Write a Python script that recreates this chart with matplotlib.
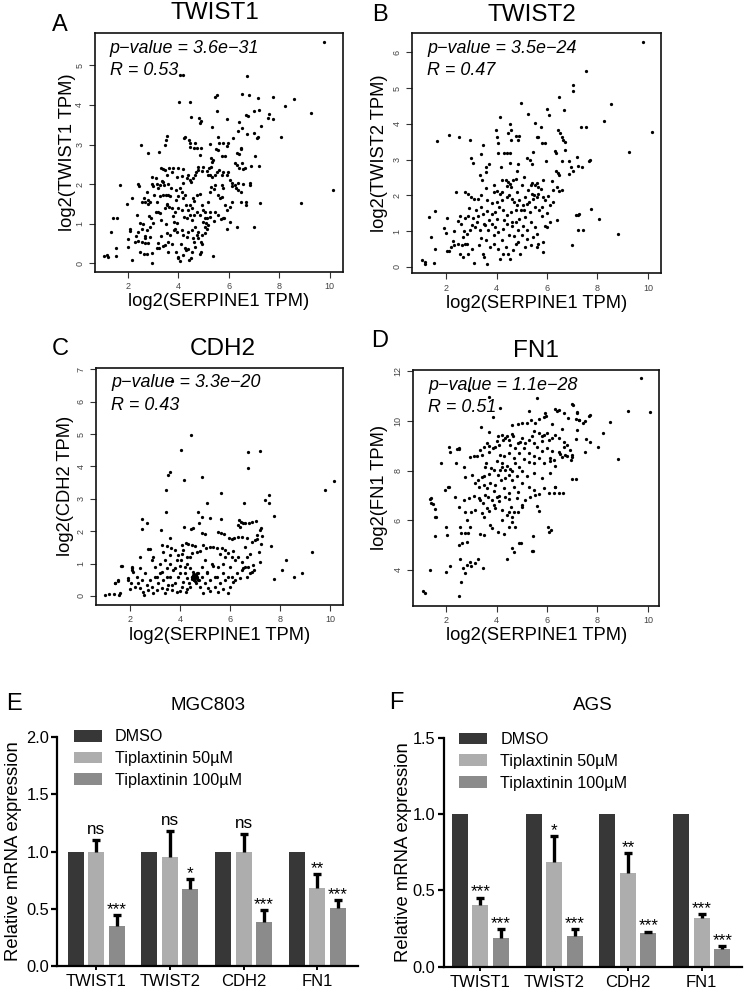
import numpy as np
import matplotlib
matplotlib.use("Agg")
import matplotlib.pyplot as plt

plt.rcParams['font.family'] = ['Liberation Sans', 'DejaVu Sans']

# ---------------- data: correlation scatter (log2 TPM) ----------------
twist1_pts = [
    (9.79,5.59),(4.07,4.76),(4.18,4.75),(6.72,4.72),(10.15,1.85),(8.86,1.52),(9.27,3.79),(8.57,4.14),(8.24,3.98),
    (8.08,3.2),(7.75,4.21),(7.18,4.17),(6.54,4.27),(6.82,4.25),(5.46,4.21),(5.53,4.25),(4.03,4.08),(4.47,4.07),
    (5.55,3.85),(4.5,3.7),(4.82,3.68),(4.9,3.6),(4.87,3.54),(5.94,3.64),(5.35,3.45),(6.42,3.58),(6.75,3.71),
    (6.67,3.75),(6.99,3.85),(7.21,3.87),(7.54,3.66),(7.61,3.77),(7.74,3.64),(7.3,3.48),(7.01,3.29),(7.18,3.2),
    (7.14,3.16),(6.71,3.26),(6.51,3.41),(6.37,3.35),(3.56,3.21),(3.5,3.11),(3.46,3.0),(4.26,3.19),(4.22,3.16),
    (2.51,2.98),(2.79,2.78),(3.24,2.81),(4.43,3.12),(4.47,3.03),(4.48,2.93),(4.66,3.04),(4.61,2.92),(4.74,2.92),
    (4.9,2.92),(4.88,2.74),(5.26,3.02),(5.59,3.18),(5.6,3.05),(5.57,2.86),(5.48,2.9),(5.79,3.05),(5.93,2.97),
    (5.98,3.03),(6.16,3.16),(6.49,2.92),(6.47,2.88),(6.34,2.8),(6.4,2.75),(5.72,2.72),(5.85,2.7),(5.28,2.67),
    (5.33,2.57),(5.39,2.61),(5.3,2.44),(5.23,2.42),(6.25,2.53),(6.35,2.49),(6.4,2.42),(6.51,2.53),(6.64,2.42),
    (6.58,2.38),(6.88,2.47),(7.04,2.7),(7.2,2.45),(6.84,2.02),(6.86,1.99),(6.55,2.0),(6.38,1.85),(6.49,1.79),
    (6.47,1.56),(6.68,1.54),(6.67,1.47),(7.25,1.52),(7.01,0.93),(6.34,0.91),(5.92,0.86),(6.05,1.05),(5.79,1.15),
    (5.42,1.07),(5.39,0.18),(4.86,0.23),(4.9,0.29),(2.98,0.02),
    (1.7,1.98),(1.41,1.14),(1.59,1.14),(1.34,0.78),(1.96,1.49),(2.17,1.64),(2.42,2.0),(2.46,1.96),(1.05,0.19),
    (1.18,0.21),(1.21,0.17),(1.55,0.19),(1.55,0.4),(2.16,0.09),(2.01,0.42),(2.0,0.62),(2.09,0.88),(2.07,0.82),
    (2.34,0.69),(2.42,0.56),(2.49,1.03),(2.36,1.22),(2.55,1.56),(2.69,1.54),(2.75,1.81),(2.98,2.19),(3.12,2.15),
    (3.15,2.0),(2.95,2.0),(3.0,1.96),(3.35,2.08),(3.41,2.05),(3.49,2.36),(3.65,2.4),(3.54,2.23),(3.28,1.98),
    (3.44,1.98),(3.81,2.4),(3.74,2.3),(4.0,2.42),(4.2,2.38),(4.16,2.2),(3.94,2.19),(2.66,1.66),(2.82,1.6),
    (2.79,1.49),(2.88,1.56),(3.04,1.73),(3.15,1.54),(3.29,1.71),(3.41,1.73),(3.5,1.73),(3.58,1.73),(3.68,1.71),
    (3.21,1.31),(3.28,1.26),(3.48,1.41),(3.64,1.43),(3.74,1.39),(3.54,1.47),(2.42,0.8),(2.55,0.88),(2.75,0.84),
    (2.88,0.93),(2.92,1.14),(3.02,1.01),(2.29,0.55),(2.55,0.55),(2.69,0.51),(2.82,0.51),(2.69,0.63),(2.88,0.67),
    (2.49,0.29),(2.66,0.23),(2.75,0.23),(2.95,0.25),(3.15,0.38),(3.19,0.51),(3.25,0.38),(3.48,0.46),
    (3.58,0.55),(3.54,0.76),(3.68,0.72),(3.85,0.84),(3.83,1.05),(3.94,1.01),(4.0,0.17),(4.0,0.13),(4.07,0.07),
    (4.27,0.38),(4.3,0.34),(4.4,0.36),(4.43,0.08),(4.49,0.13),(4.53,0.29),(4.6,0.63),(4.64,0.55),(4.66,0.42),
    (4.8,0.63),(4.9,0.55),(4.93,0.48),(4.8,0.8),(5.06,0.76),(5.13,0.88),(5.09,1.01),(5.13,1.14),(5.26,1.18),
    (5.26,1.31),(4.07,1.9),(4.14,1.81),(4.2,2.02),(4.34,2.15),(4.4,2.23),(4.47,2.11),(4.51,2.05),(4.6,2.15),
    (4.66,2.23),(4.7,2.32),(4.8,2.44),(4.8,2.36),(4.93,2.33),(4.99,2.44),(5.13,2.33),(5.19,2.22),(5.26,2.23),
    (5.32,2.17),(5.46,2.23),(5.52,2.3),(5.61,2.36),(5.72,2.23),(5.79,2.3),(5.92,2.23),(5.98,2.3),(6.05,2.11),
    (6.12,2.02),(6.14,1.96),(5.72,1.98),(5.79,1.9),(4.18,1.64),(4.27,1.73),(4.3,1.47),(4.47,1.47),(4.4,1.35),
    (4.53,1.39),(4.6,1.64),(4.63,1.58),(4.73,1.73),(4.86,1.74),(4.93,1.47),(4.99,1.35),(5.06,1.31),(5.19,1.56),
    (5.26,1.81),(5.3,1.94),(5.43,1.88),(5.46,1.98),(5.59,1.73),(5.65,1.64),(5.72,1.68),(5.85,1.47),(5.92,1.35),
    (6.05,1.43),(6.12,1.56),(6.25,1.98),(6.31,1.9),(6.38,2.02),(3.87,1.31),(4.0,1.39),(4.16,1.35),(4.24,1.18),
    (4.34,1.14),(4.47,1.22),(4.53,1.1),(4.64,1.22),(4.73,1.29),(4.86,1.22),(4.99,1.05),(5.06,1.14),(5.19,0.97),
    (5.46,1.31),(5.59,1.22),(5.69,1.12),(5.83,1.14),(3.87,0.88),(3.94,0.8),(4.14,0.84),(4.2,0.72),(4.34,0.67),
    (4.4,0.8),(4.53,0.84),(4.66,0.93),(4.73,0.72),(4.93,0.72),(5.06,0.93),(3.3,2.4),(3.4,2.38),(3.6,2.0),
    (3.7,1.9),(3.9,1.85),(3.2,1.9),(3.55,1.5),(3.9,1.6),(4.0,1.7),(3.75,0.5),(3.6,0.3),(3.4,0.45),(3.3,0.7),
    (4.1,0.5),(4.2,0.2),(3.9,0.3),(3.8,1.2),(3.5,1.0),(3.3,1.1),(3.1,1.3),(2.85,1.2),(2.6,1.0),(2.7,0.7),
]

twist2_pts = [
    (9.8,6.28),(7.53,5.47),(7.03,5.08),(7.03,4.92),(8.54,4.54),(6.49,4.76),(10.15,3.78),(9.24,3.2),(8.24,4.08),
    (8.83,0.93),(8.08,1.35),(7.74,1.61),(7.01,0.61),(7.25,1.49),(7.22,1.45),(7.41,1.04),(7.71,3.0),(7.65,2.97),
    (7.34,3.92),(7.55,3.9),(4.97,4.57),(4.14,4.18),(5.23,4.27),(6.0,4.42),(6.09,4.24),(5.51,4.03),(5.77,3.91),
    (4.52,3.99),(4.57,3.84),(2.11,3.69),(2.5,3.64),(1.66,3.52),(2.94,3.56),(3.97,3.84),(4.03,3.62),
    (3.48,3.4),(4.04,3.45),(4.44,3.73),(4.57,3.56),(4.77,3.67),(4.89,3.66),(4.86,3.54),(5.59,3.64),(5.65,3.62),
    (5.79,3.47),(5.94,3.45),(6.45,3.82),(6.51,3.73),(6.58,3.64),(6.64,3.56),(6.71,3.48),(6.3,3.25),(6.36,3.19),
    (6.71,3.27),(6.67,4.38),(2.99,3.03),(3.06,2.91),(3.39,3.15),(3.71,2.87),(4.07,3.19),(4.18,2.8),(4.3,3.19),
    (4.4,3.19),(4.53,3.17),(4.53,2.89),(4.84,2.87),(5.22,3.03),(5.32,2.99),(5.4,2.87),(5.46,3.22),(5.96,2.97),
    (6.35,2.69),(6.42,2.63),(6.49,2.57),(6.6,2.97),(6.88,2.96),(7.17,3.08),(6.95,2.8),(7.04,2.69),(7.21,2.82),
    (7.37,2.78),(6.87,2.59),(3.35,2.57),(3.44,2.44),(3.58,2.78),(3.58,2.66),(4.2,2.44),(4.37,2.44),(4.47,2.38),
    (4.53,2.33),(4.66,2.44),(4.77,2.47),(4.4,2.26),(4.56,2.24),(4.82,2.68),(5.09,2.5),(5.26,2.15),(5.35,2.29),
    (5.42,2.35),(5.54,2.29),(5.61,2.35),(5.65,2.24),(5.75,2.19),(5.85,2.44),(2.4,2.1),(2.75,2.1),(2.88,2.05),
    (2.98,1.96),(3.12,1.91),(3.28,1.91),(3.37,1.68),(3.61,1.88),(3.81,1.79),(3.91,2.1),(4.03,2.13),(4.14,2.05),
    (4.2,1.87),(4.4,1.96),(4.6,1.91),(4.69,1.82),(4.8,1.73),(4.9,1.87),(5.03,1.73),(5.13,1.96),(5.22,1.77),
    (5.39,2.03),(5.46,1.91),(5.59,1.96),(5.65,2.03),(5.83,1.96),(5.92,1.87),(6.05,1.98),(6.25,2.15),(6.38,2.24),
    (6.47,2.12),(6.58,2.15),(6.12,1.73),(6.22,1.82),(5.79,1.68),(5.52,1.66),(5.32,1.54),(5.13,1.4),(4.96,1.59),
    (4.77,1.6),(4.56,1.54),(4.4,1.45),(4.27,1.59),(4.11,1.68),(3.94,1.54),(3.81,1.47),(3.64,1.57),(3.48,1.47),
    (3.28,1.42),(3.21,1.26),(3.08,1.38),(2.88,1.42),(2.75,1.37),(2.55,1.42),(2.49,1.29),(2.05,1.37),(1.33,1.4),
    (1.55,1.57),(1.93,1.1),(1.99,0.95),(1.41,0.84),(1.56,0.49),(1.06,0.19),(1.16,0.14),(1.18,0.09),(1.53,0.11),
    (2.03,0.45),(2.13,0.43),(2.29,0.73),(2.33,0.61),(2.49,0.63),(2.62,0.61),(2.75,0.63),(2.84,0.65),(2.69,0.84),
    (2.84,0.93),(2.95,1.04),(3.02,1.17),(3.15,1.12),(3.35,1.03),(3.54,1.17),(3.68,1.04),(3.81,1.21),(3.94,1.12),
    (4.07,0.98),(4.27,1.07),(4.4,1.21),(4.6,1.14),(4.77,1.26),(4.86,1.03),(5.06,1.14),(5.19,1.03),(5.37,1.26),
    (5.52,1.12),(5.59,0.93),(5.79,1.42),(5.92,1.14),(6.01,1.12),(6.12,1.26),(6.38,1.31),(7.24,1.03),(7.14,1.45),
    (2.55,0.37),(2.69,0.28),(2.88,0.35),(3.02,0.49),(3.12,0.11),(3.48,0.37),(3.5,0.28),(3.61,0.09),(3.74,0.56),
    (3.9,0.63),(4.07,0.51),(4.14,0.23),(4.24,0.37),(4.37,0.56),(4.47,0.37),(4.53,0.23),(4.66,0.47),(4.77,0.65),
    (4.86,0.7),(4.93,0.35),(5.13,0.56),(5.22,0.79),(5.35,0.61),(5.46,0.84),(5.65,0.63),(5.85,0.7),(5.85,0.42),
    (5.59,0.56),(3.3,0.6),(3.4,0.8),(3.6,0.75),(3.9,0.9),(4.2,0.75),(4.5,0.9),(4.7,0.85),(5.0,0.9),(3.2,1.6),
    (3.5,1.2),(3.7,1.3),(4.0,1.35),(4.3,1.3),(4.6,1.25),(4.9,1.35),(5.1,1.6),(5.3,1.8),(4.0,1.8),(4.2,2.1),
    (4.5,2.0),(4.8,2.1),(5.0,2.3),(5.5,2.0),(5.7,1.6),(6.0,1.5),(6.2,2.4),(3.9,2.3),(3.6,2.2),(3.4,2.0),
    (2.9,1.65),(2.6,1.2),(2.3,1.0),(2.2,0.55),(2.7,1.0),
]

cdh2_pts = [
    (4.43,4.98),(4.03,4.5),(6.73,4.45),(7.21,4.48),(6.71,3.96),(3.61,3.83),(3.51,3.73),(4.18,3.58),(4.9,3.66),
    (3.43,3.27),(5.63,3.17),(7.55,3.13),(7.39,2.96),(7.54,2.88),(6.54,2.86),(5.09,2.86),(3.43,2.6),(7.75,2.48),
    (4.71,2.6),(4.9,2.45),(5.19,2.42),(5.64,2.37),(2.48,2.39),(2.7,2.24),(2.5,2.07),(3.25,2.03),(4.18,2.12),
    (4.43,2.08),(4.51,2.09),(4.75,2.26),(4.87,1.93),(5.0,1.9),(6.36,2.34),(6.44,2.29),(6.53,2.24),(6.6,2.26),
    (6.75,2.24),(6.89,2.29),(7.02,2.31),(6.33,2.19),(6.41,2.14),(7.22,2.09),(7.21,2.04),(5.51,1.96),(5.64,1.93),
    (5.77,1.91),(7.06,1.88),(5.97,1.78),(6.06,1.75),(6.17,1.78),(6.3,1.81),(6.46,1.81),(6.66,1.78),(6.86,1.68),
    (6.99,1.73),(7.09,1.76),(7.26,1.85),(7.23,1.6),(7.62,1.54),(8.23,1.11),(7.17,1.37),(8.85,0.7),(8.56,0.6),
    (8.08,0.8),(7.75,0.51),(7.19,1.06),(6.95,0.8),(6.86,0.75),(6.66,1.21),(6.73,0.9),(10.15,3.54),(9.78,3.26),
    (9.25,1.35),(3.67,6.65),
    (1.71,0.94),(2.08,0.9),(2.08,0.8),(2.41,1.19),(2.74,1.45),(2.83,1.46),(3.27,1.57),(2.94,1.21),(3.47,1.54),
    (3.61,1.78),(3.65,1.47),(3.34,1.37),(3.61,1.26),(3.81,1.42),(4.07,1.57),(4.23,1.62),(4.34,1.6),(4.47,1.57),
    (4.6,1.54),(4.14,1.42),(3.94,1.26),(4.05,1.11),(4.27,1.21),(4.5,1.32),(4.67,1.37),(4.8,1.4),(4.93,1.57),
    (5.04,1.47),(5.2,1.52),(5.33,1.5),(5.47,1.47),(5.67,1.47),(5.8,1.42),(5.93,1.32),(6.06,1.21),(6.2,1.11),
    (6.33,1.21),(6.46,1.06),(6.6,0.9),(6.46,0.8),(2.41,0.85),(1.95,0.49),(1.52,0.49),(1.42,0.39),
    (1.03,0.02),(1.19,0.05),(1.39,0.06),(1.58,0.03),(1.62,0.1),(1.42,0.41),(1.55,0.47),(1.67,0.93),(1.95,0.55),
    (2.04,0.39),(2.12,0.75),(2.08,0.86),(2.01,0.21),(2.21,0.29),(2.35,0.39),(2.41,0.24),(2.48,0.49),(2.54,0.13),
    (2.57,0.03),(2.68,0.34),(2.74,0.19),(2.81,0.49),(2.88,0.29),(2.94,0.08),(3.01,0.6),(3.08,0.19),(3.14,0.39),
    (3.21,0.7),(3.27,0.24),(3.34,0.49),(3.41,0.08),(3.47,0.86),(3.54,0.34),(3.61,0.6),(3.67,0.19),(3.74,0.8),
    (3.81,0.39),(3.87,0.13),(3.94,0.6),(4.01,0.91),(4.07,0.29),(4.14,0.44),(4.2,0.7),(4.24,0.13),(4.3,0.55),
    (4.35,0.39),(4.4,0.29),(4.47,0.6),(4.51,0.75),(4.56,0.49),(4.6,0.65),(4.64,0.39),(4.67,0.55),(4.71,0.7),
    (4.75,0.49),(4.8,0.29),(4.87,0.6),(4.93,0.08),(5.0,0.39),(5.07,0.75),(5.13,0.24),(5.2,0.49),(5.33,0.91),
    (5.4,0.29),(5.47,0.6),(5.53,0.13),(5.6,0.39),(5.71,0.7),(5.8,0.49),(5.93,0.08),(6.0,0.29),(6.06,0.6),
    (6.13,0.44),(6.26,0.7),(6.4,0.55),(6.53,0.86),(6.66,0.6),(6.79,0.7),(6.93,0.96),
    (4.55,0.6),(4.6,0.55),(4.65,0.62),(4.7,0.58),(4.58,0.68),(4.5,0.52),(4.62,0.45),(4.68,0.72),(4.72,0.5),
    (4.52,0.65),(4.48,0.58),(4.66,0.66),(4.57,0.48),
    (3.0,0.9),(3.2,1.0),(3.4,1.1),(3.3,0.75),(3.5,0.6),(3.6,1.0),(3.8,0.85),(4.0,0.7),(4.2,0.9),(4.3,1.0),
    (4.4,0.85),(4.9,0.9),(5.0,1.1),(5.1,0.7),(5.3,1.0),(5.5,0.9),(5.7,1.0),(5.8,1.2),(6.0,0.9),(6.2,0.5),
    (2.9,1.1),(3.1,0.6),(2.6,0.7),(2.3,0.6),(3.9,1.1),(4.1,1.3),(4.4,1.2),(5.6,1.3),(6.1,1.4),(6.6,1.5),
    (6.8,1.3),(5.4,0.6),(5.9,0.6),(3.5,0.2),(3.7,0.35),(4.0,0.15),(4.3,0.2),(5.2,0.15),(5.7,0.2),
]

fn1_pts = [
    (9.73,11.73),(10.09,10.36),(9.2,10.41),(8.5,9.95),(8.2,9.51),(8.04,8.97),(8.81,8.46),(7.67,10.22),(7.51,10.01),
    (7.41,9.94),(7.25,10.05),(7.15,10.08),(6.99,10.69),(7.18,10.38),(6.3,10.48),(6.46,10.45),(5.9,10.18),
    (5.6,10.95),(5.27,10.41),(4.15,10.52),(3.86,10.18),(2.92,11.26),(3.4,9.78),(3.69,10.99),
    (1.78,8.3),(2.15,8.74),(2.44,8.87),(2.53,8.88),(1.97,7.23),(2.08,7.36),(1.35,6.86),(1.42,6.69),(1.58,6.46),
    (1.58,6.15),(1.58,5.37),(2.0,5.72),(2.04,5.41),(1.38,4.0),(2.01,3.91),(2.17,4.17),(1.08,3.17),(1.18,3.06),
    (2.53,2.95),(2.59,3.53),(2.57,4.43),(2.66,4.07),(2.77,3.87),(2.84,4.2),(2.94,4.34),(2.99,4.16),(3.16,4.27),
    (3.27,4.43),(3.45,4.07),(4.43,4.43),(4.61,4.87),(4.7,4.71),(4.89,5.1),(4.95,5.09),(5.39,4.78),(5.44,4.75),
    (5.44,5.37),(6.04,5.75),(6.17,5.61),(6.07,5.52),(6.99,7.67),(7.15,7.66),(6.3,7.36),(6.63,7.12),(6.29,7.09),
    (7.49,8.77),(7.55,9.28),(7.71,9.17),(6.99,8.54),(6.96,8.44),(6.72,8.64),(6.66,8.97),(7.16,9.27),(7.19,9.65),
    (3.7,9.55),(4.06,9.4),(4.22,9.44),(4.41,9.4),(4.61,9.85),(4.85,9.87),(5.01,9.91),(5.21,9.91),(5.36,10.05),
    (5.54,9.94),(5.67,10.08),(5.93,10.34),(5.96,10.21),(6.39,10.41),(6.66,10.32),(6.85,10.12),(7.03,10.65),
    (7.18,10.34),(7.25,10.05),(7.71,10.25),
    (2.13,8.95),(2.5,8.91),(2.41,8.33),(2.7,8.14),(2.77,7.76),(3.03,7.83),(2.96,8.57),(3.1,8.6),(3.23,8.6),
    (3.36,8.84),(3.42,8.64),(3.49,8.97),(3.62,9.13),(3.69,8.77),(3.85,8.91),(3.95,8.97),(4.08,9.04),(4.15,8.64),
    (4.24,9.24),(4.35,9.31),(4.48,9.24),(4.55,9.04),(4.64,9.38),(4.74,8.91),(4.85,9.11),(4.94,9.17),(5.01,9.31),
    (5.14,9.13),(5.27,9.22),(5.4,9.38),(5.47,9.11),(5.6,8.97),(5.67,9.51),(5.8,9.38),(5.9,9.44),(6.0,9.54),
    (6.06,9.24),(6.2,9.31),(6.33,9.44),(6.46,9.31),(6.66,9.17),(6.79,9.04),(6.92,8.84),(6.99,8.64),(6.46,8.77),
    (6.53,8.68),(6.59,8.54),(6.13,8.5),(6.26,8.44),(5.87,8.3),(5.67,8.5),(5.47,8.3),(5.27,8.37),(5.07,8.46),
    (4.88,8.14),(4.72,8.3),(4.55,8.06),(4.48,7.83),(4.35,8.03),(4.22,8.14),(4.15,8.03),(4.06,7.83),(3.89,8.03),
    (3.72,7.87),(3.56,8.14),(3.42,7.76),(3.27,7.63),(3.13,7.49),(3.29,7.36),(3.49,7.43),(3.62,7.29),(3.75,7.49),
    (3.95,7.43),(4.19,7.63),(4.35,7.7),(4.61,7.63),(4.68,7.36),(4.85,7.16),(5.01,7.49),(5.27,7.36),(5.47,7.23),
    (5.67,7.06),(5.87,7.29),(6.06,7.09),(6.33,7.36),(6.46,7.09),
    (2.11,7.36),(2.37,6.96),(2.5,6.55),(2.7,6.82),(2.9,6.89),(2.77,6.35),(3.0,6.35),(3.16,6.42),(3.36,6.82),
    (3.45,6.69),(3.56,7.02),(3.66,6.93),(3.82,6.82),(3.95,6.49),(3.62,6.49),(3.72,6.38),(3.42,6.28),(3.49,6.12),
    (4.02,6.96),(4.11,6.76),(4.35,6.96),(4.48,6.85),(4.59,6.55),(4.68,6.35),(4.85,6.35),(5.01,6.55),(5.14,6.82),
    (5.34,6.96),(5.51,7.02),(5.6,6.58),(5.69,6.39),(4.48,6.35),(4.61,6.15),(4.22,6.02),(4.48,5.75),(4.61,5.95),
    (4.74,5.75),(3.75,5.81),(3.82,5.68),(2.57,5.75),(2.83,6.02),(2.96,5.75),(2.77,5.51),(2.87,5.48),(2.61,5.48),
    (3.36,5.45),(3.49,5.41),(4.06,5.55),(4.28,5.45),(2.63,5.08),(2.83,5.12),(2.5,5.02),(1.42,6.89),(1.47,6.66),
    (1.62,6.15),
    (4.3,8.6),(4.5,8.7),(4.7,8.5),(4.9,8.7),(5.1,8.9),(5.3,8.7),(5.5,8.6),(5.8,8.8),(6.0,8.9),(6.2,8.8),
    (4.0,8.4),(4.2,8.3),(4.4,8.2),(4.6,8.0),(4.8,7.8),(5.0,8.0),(5.2,7.8),(5.5,7.9),(5.8,7.7),(6.1,7.9),
    (6.3,8.2),(3.6,8.3),(3.8,8.1),(3.5,7.8),(3.9,7.2),(4.1,7.0),(4.3,7.3),(4.5,7.1),(4.8,6.9),(5.0,6.6),
    (3.3,6.9),(3.1,7.0),(3.9,6.6),(4.2,6.4),(4.4,6.2),(3.7,9.0),(4.0,9.2),(4.6,9.5),(5.5,9.6),(6.2,9.9),
    (6.6,9.7),(5.8,9.2),(6.8,8.6),(6.1,8.4),
]

# ---------------- data: qPCR bars ----------------
genes = ['TWIST1', 'TWIST2', 'CDH2', 'FN1']
groups = ['DMSO', 'Tiplaxtinin 50µM', 'Tiplaxtinin 100µM']

mgc_dmso = [1.0, 1.0, 1.0, 1.0]
mgc_50 = [1.0, 0.95, 1.0, 0.68]
mgc_50_err = [0.10, 0.23, 0.15, 0.12]
mgc_100 = [0.346, 0.669, 0.384, 0.506]
mgc_100_err = [0.10, 0.09, 0.10, 0.067]
mgc_sig50 = ['ns', 'ns', 'ns', '**']
mgc_sig100 = ['***', '*', '***', '***']

ags_dmso = [1.0, 1.0, 1.0, 1.0]
ags_50 = [0.405, 0.683, 0.617, 0.317]
ags_50_err = [0.048, 0.17, 0.125, 0.027]
ags_100 = [0.186, 0.20, 0.219, 0.114]
ags_100_err = [0.059, 0.045, 0.011, 0.019]
ags_sig50 = ['***', '*', '**', '***']
ags_sig100 = ['***', '***', '***', '***']

# ---------------- figure ----------------
W, H = 744, 992
fig = plt.figure(figsize=(W / 100, H / 100), dpi=100)


def add_ax(l, t, r, b):
    return fig.add_axes([l / W, 1 - b / H, (r - l) / W, (b - t) / H])


def fig_text(x, y, s, **kw):
    return fig.text(x / W, 1 - y / H, s, **kw)


def scatter_panel(rect, pts, xlim, ylim, yticks, gene, pval, rval, letter, title_xy, letter_xy, ylab_off):
    ax = add_ax(*rect)
    w = rect[2] - rect[0]
    h = rect[3] - rect[1]
    pts = np.array(pts)
    ax.scatter(pts[:, 0], pts[:, 1], s=5.5, c='black', linewidths=0)
    ax.set_xlim(xlim)
    ax.set_ylim(ylim)
    ax.set_xticks([2, 4, 6, 8, 10])
    ax.set_yticks(yticks)
    ax.tick_params(direction='out', length=4, width=0.8, color='#333333',
                   labelsize=6.5, labelcolor='#444444', pad=3.5)
    for lab in ax.get_yticklabels():
        lab.set_rotation(90)
        lab.set_va('center')
    for sp in ax.spines.values():
        sp.set_linewidth(1.2)
        sp.set_color('#111111')
    ax.set_xlabel('log2(SERPINE1 TPM)', fontsize=13.2)
    ax.xaxis.set_label_coords(0.5, -30 / h)
    ax.xaxis.label.set_va('center')
    ax.set_ylabel(f'log2({gene} TPM)', fontsize=13.2)
    ax.yaxis.set_label_coords(-ylab_off / w, 0.5)
    ax.yaxis.label.set_va('center')
    ax.text(15 / w, 1 - 15 / h, f'p\u2212value = {pval}', style='italic', fontsize=12.9,
            va='center', ha='left', transform=ax.transAxes)
    ax.text(15 / w, 1 - 37.5 / h, f'R = {rval}', style='italic', fontsize=12.9,
            va='center', ha='left', transform=ax.transAxes)
    fig_text(title_xy[0], title_xy[1], gene, fontsize=17.5, ha='center', va='baseline')
    fig_text(letter_xy[0], letter_xy[1], letter, fontsize=17, ha='center', va='baseline')
    return ax


scatter_panel((94.7, 33.3, 342.7, 271.7), twist1_pts, (0.69, 10.52), (-0.21, 5.81), range(0, 6),
              'TWIST1', '3.6e\u221231', '0.53', 'A', (215, 19.3), (60, 30.7), 27)
scatter_panel((412, 33.3, 661.3, 273.3), twist2_pts, (0.65, 10.53), (-0.18, 6.53), range(0, 7),
              'TWIST2', '3.5e\u221224', '0.47', 'B', (532, 20.7), (380, 20.7), 32)
scatter_panel((96, 367.7, 343.3, 605), cdh2_pts, (0.66, 10.51), (-0.28, 7.05), range(0, 8),
              'CDH2', '3.3e\u221220', '0.43', 'C', (222.3, 355), (60, 355), 30)
scatter_panel((413, 370, 659.3, 605.7), fn1_pts, (0.69, 10.45), (2.56, 12.06), [4, 6, 8, 10, 12],
              'FN1', '1.1e\u221228', '0.51', 'D', (536, 356.7), (380, 346.7), 33)

colors = ['#373737', '#adadad', '#8b8b8b']


def bar_panel(rect, xlim, ylim, yticks, dmso, v50, e50, v100, e100, sig50, sig100,
              title, letter, letter_xy, ylab_off, legend_anchor):
    ax = add_ax(*rect)
    w = rect[2] - rect[0]
    centers = np.arange(len(genes)) * 3.6
    bw = 0.78
    ax.bar(centers - 1, dmso, bw, color=colors[0], label=groups[0])
    ax.bar(centers, v50, bw, color=colors[1], label=groups[1])
    ax.bar(centers + 1, v100, bw, color=colors[2], label=groups[2])
    for xs, v, e, sig in ((centers, v50, e50, sig50), (centers + 1, v100, e100, sig100)):
        v = np.array(v)
        e = np.array(e)
        ax.errorbar(xs, v, yerr=[np.zeros_like(e), e], fmt='none', ecolor='black',
                    elinewidth=2.4, capsize=0)
        ax.plot(xs, v + e, ls='none', marker='_', ms=5.5, mew=2.4, color='black')
        for x, top, s in zip(xs, v + e, sig):
            off = 4.3 if s == 'ns' else 0.8
            ax.annotate(s, (x, top), xytext=(0, off), textcoords='offset points',
                        ha='center', va='baseline', fontsize=12.3)
    ax.set_xlim(xlim)
    ax.set_ylim(ylim)
    ax.set_yticks(yticks)
    ax.set_yticklabels([f'{t:.1f}' for t in yticks])
    ax.set_xticks(centers)
    ax.set_xticklabels(genes)
    for s in ('top', 'right'):
        ax.spines[s].set_visible(False)
    for s in ('left', 'bottom'):
        ax.spines[s].set_linewidth(1.6)
    ax.tick_params(axis='y', direction='out', length=4, width=1.6, labelsize=11.8, pad=2)
    ax.tick_params(axis='x', direction='out', length=3, width=1.4, labelsize=12, pad=3)
    ax.set_ylabel('Relative mRNA expression', fontsize=13.3)
    ax.yaxis.set_label_coords(-ylab_off / w, 0.5)
    ax.yaxis.label.set_va('center')
    ax.legend(loc='upper left', bbox_to_anchor=legend_anchor, frameon=False, fontsize=11.6,
              handlelength=1.75, handleheight=0.75, handletextpad=0.8, labelspacing=0.42,
              borderpad=0, borderaxespad=0)
    cx = (rect[0] + rect[2]) / 2
    fig_text(cx, 710, title, fontsize=13.5, ha='center', va='baseline')
    fig_text(letter_xy[0], letter_xy[1], letter, fontsize=17, ha='center', va='baseline')
    return ax


bar_panel((57.3, 737.3, 358.3, 965.7), (-1.89, 12.8), (0, 2.0), [0.0, 0.5, 1.0, 1.5, 2.0],
          mgc_dmso, mgc_50, mgc_50_err, mgc_100, mgc_100_err, mgc_sig50, mgc_sig100,
          'MGC803', 'E', (14, 710), 44, (0.055, 1.035))
bar_panel((443.7, 737.7, 742, 966.7), (-1.79, 12.77), (0, 1.5), [0.0, 0.5, 1.0, 1.5],
          ags_dmso, ags_50, ags_50_err, ags_100, ags_100_err, ags_sig50, ags_sig100,
          'AGS', 'F', (396, 709.3), 40, (0.052, 1.024))

fig.savefig('out.png', dpi=100)
